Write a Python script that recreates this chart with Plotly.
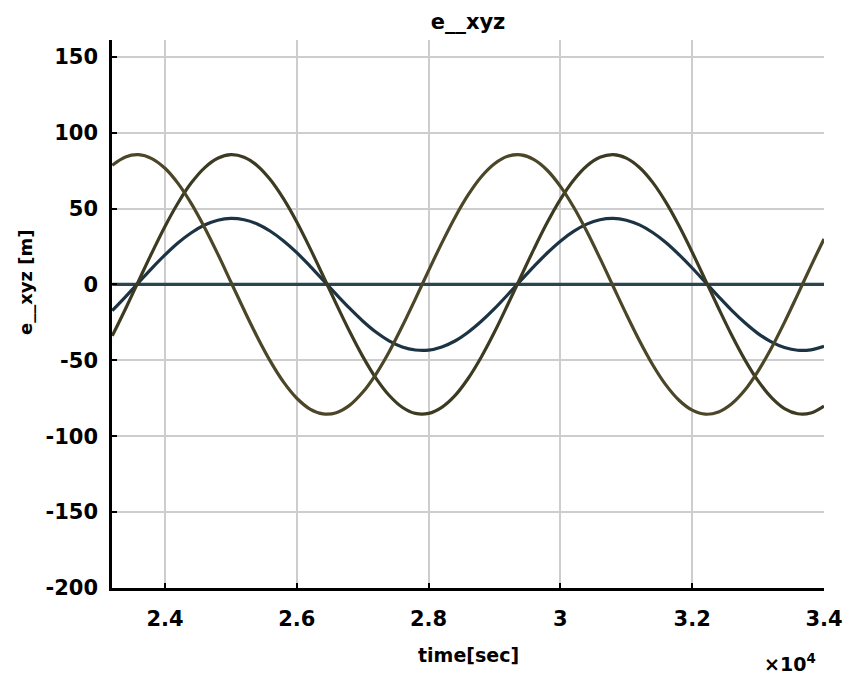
import plotly.graph_objects as go

# time samples [s]
time_s = [23200, 23400, 23600, 23800, 24000, 24200, 24400, 24600, 24800, 25000,
          25200, 25400, 25600, 25800, 26000, 26200, 26400, 26600, 26800, 27000,
          27200, 27400, 27600, 27800, 28000, 28200, 28400, 28600, 28800, 29000,
          29200, 29400, 29600, 29800, 30000, 30200, 30400, 30600, 30800, 31000,
          31200, 31400, 31600, 31800, 32000, 32200, 32400, 32600, 32800, 33000,
          33200, 33400, 33600, 33800, 34000]

# error components [m]
e_x = [78.5, 84.0, 85.5, 82.9, 76.5, 66.4, 53.2, 37.5, 20.1, 1.6,
       -16.9, -34.6, -50.7, -64.4, -75.0, -82.1, -85.3, -84.5, -79.7, -71.1,
       -59.2, -44.5, -27.6, -9.5, 9.1, 27.2, 44.1, 58.9, 70.9, 79.5,
       84.4, 85.3, 82.2, 75.2, 64.6, 51.0, 35.0, 17.3, -1.2, -19.6,
       -37.1, -52.9, -66.2, -76.3, -82.8, -85.5, -84.0, -78.6, -69.6, -57.1,
       -42.1, -25.0, -6.7, 11.9, 29.9]
e_y = [-33.9, -16.2, 2.3, 20.7, 38.2, 53.8, 66.9, 76.8, 83.1, 85.5,
       83.8, 78.2, 68.9, 56.3, 41.1, 23.9, 5.6, -13.0, -30.9, -47.4,
       -61.7, -73.0, -80.9, -85.0, -85.0, -81.0, -73.3, -62.0, -47.8, -31.4,
       -13.4, 5.1, 23.4, 40.7, 56.0, 68.6, 78.0, 83.7, 85.5, 83.2,
       77.0, 67.2, 54.2, 38.6, 21.2, 2.8, -15.7, -33.5, -49.7, -63.6,
       -74.4, -81.8, -85.2, -84.7, -80.1]
e_z = [-17.3, -8.2, 1.2, 10.6, 19.4, 27.4, 34.0, 39.1, 42.3, 43.5,
       42.6, 39.8, 35.0, 28.6, 20.9, 12.1, 2.8, -6.6, -15.7, -24.1,
       -31.4, -37.2, -41.2, -43.2, -43.3, -41.2, -37.3, -31.5, -24.3, -16.0,
       -6.8, 2.6, 11.9, 20.7, 28.5, 34.9, 39.7, 42.6, 43.5, 42.3,
       39.2, 34.2, 27.6, 19.6, 10.8, 1.4, -8.0, -17.1, -25.3, -32.4,
       -37.9, -41.6, -43.4, -43.1, -40.8]
e_0 = [0.0] * len(time_s)

x_tickvals = [24000, 26000, 28000, 30000, 32000, 34000]
x_ticktext = ["2.4", "2.6", "2.8", "3", "3.2", "3.4"]
y_tickvals = [-200, -150, -100, -50, 0, 50, 100, 150]
y_ticktext = ["-200", "-150", "-100", "-50", "0", "50", "100", "150"]

FONT = "DejaVu Sans"

fig = go.Figure()
series = [
    (e_0, "#2b4550"),
    (e_z, "#1b3343"),
    (e_y, "#3c3b22"),
    (e_x, "#4c4628"),
]
for vals, col in series:
    fig.add_trace(go.Scatter(x=time_s, y=vals, mode="lines",
                             line=dict(color=col, width=3.2, shape="spline", smoothing=1.0),
                             hoverinfo="skip"))

axis_common = dict(
    showline=True, linecolor="black", linewidth=2.5, mirror=False,
    ticks="inside", ticklen=5, tickwidth=2, tickcolor="black",
    showgrid=True, gridcolor="#cdcdcd", gridwidth=2, zeroline=False,
    automargin=False, ticklabeloverflow="allow",
    tickfont=dict(family=FONT, size=21, color="black", weight="bold"),
)

fig.update_xaxes(range=[23196, 34000], tickvals=x_tickvals, ticktext=x_ticktext,
                 ticklabelstandoff=10, **axis_common)
fig.update_yaxes(range=[-200, 161], tickvals=y_tickvals, ticktext=y_ticktext,
                 ticklabelstandoff=7, **axis_common)

fig.update_layout(
    width=844, height=681,
    margin=dict(l=112, r=20, t=40, b=93),
    plot_bgcolor="white", paper_bgcolor="white",
    showlegend=False,
    title=dict(text="e__xyz", x=0.5, xref="paper", xanchor="center",
               y=1 - 22 / 681, yref="container", yanchor="middle",
               font=dict(family=FONT, size=21, color="black", weight="bold")),
    annotations=[
        dict(text="time[sec]", x=0.5, y=-(655 - 588) / 548, xref="paper", yref="paper",
             xanchor="center", yanchor="middle", showarrow=False,
             font=dict(family=FONT, size=19, color="black", weight="bold")),
        dict(text="×10<sup>4</sup>", x=(790 - 112) / 712, y=-(663 - 588) / 548,
             xref="paper", yref="paper", xanchor="center", yanchor="middle", showarrow=False,
             font=dict(family=FONT, size=19, color="black", weight="bold")),
        dict(text="e__xyz [m]", x=(25 - 112) / 712, y=(588 - 282) / 548,
             xref="paper", yref="paper", xanchor="center", yanchor="middle", showarrow=False,
             textangle=-90,
             font=dict(family=FONT, size=18, color="black", weight="bold")),
    ],
)

fig.write_html("out.html")
